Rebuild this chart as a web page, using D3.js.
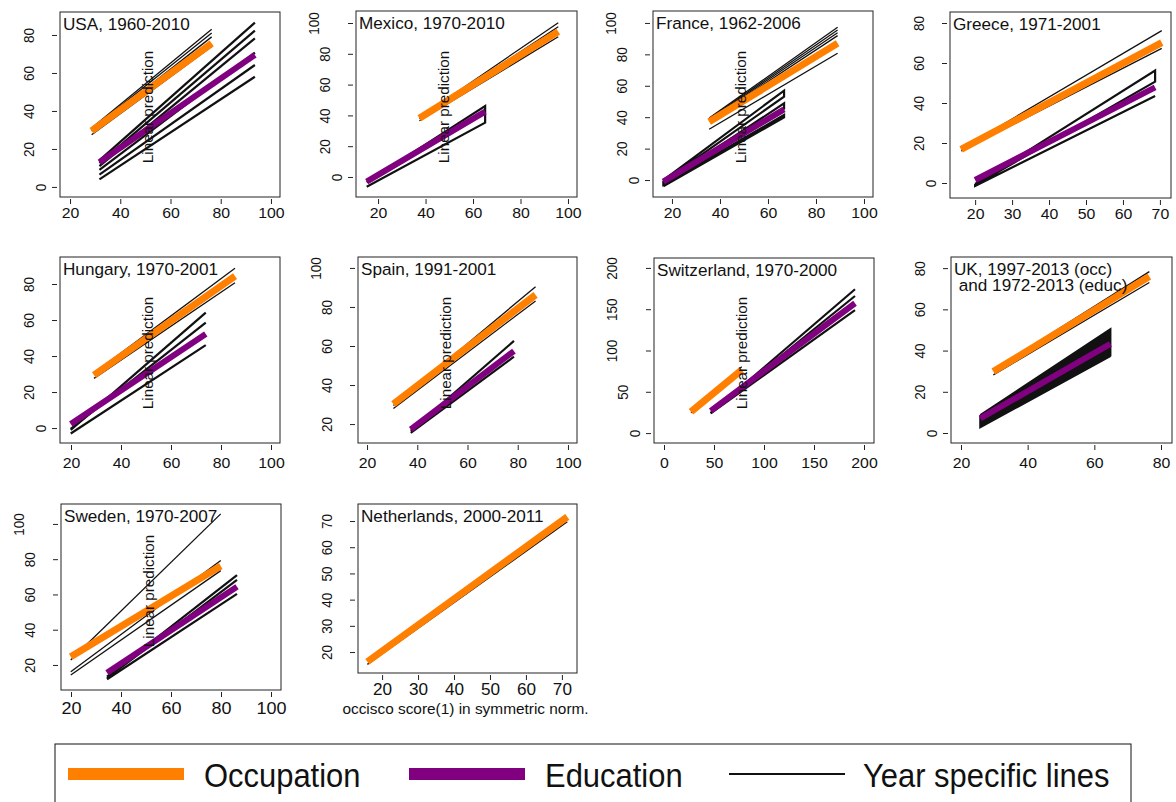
<!DOCTYPE html>
<html><head><meta charset="utf-8">
<script src="https://cdn.jsdelivr.net/npm/d3@7"></script>
<style>
body{margin:0;background:#fff}
svg{display:block}
text{font-family:"Liberation Sans",Arial,Helvetica,sans-serif;fill:#111}
</style>
</head><body>
<svg id="chart" width="1176" height="802"></svg>
<script>
// ---------------- DATA ----------------
const panelTitles = [
  ["USA, 1960-2010"], ["Mexico, 1970-2010"], ["France, 1962-2006"], ["Greece, 1971-2001"],
  ["Hungary, 1970-2001"], ["Spain, 1991-2001"], ["Switzerland, 1970-2000"],
  ["UK, 1997-2013 (occ)", " and 1972-2013 (educ)"],
  ["Sweden, 1970-2007"], ["Netherlands, 2000-2011"]
];
const xTicks = [
  [20,40,60,80,100],[20,40,60,80,100],[20,40,60,80,100],[20,30,40,50,60,70],
  [20,40,60,80,100],[20,40,60,80,100],[0,50,100,150,200],[20,40,60,80],
  [20,40,60,80,100],[20,30,40,50,60,70]
];
const yTicks = [
  [0,20,40,60,80],[0,20,40,60,80,100],[0,20,40,60,80,100],[0,20,40,60,80],
  [0,20,40,60,80],[20,40,60,80,100],[0,50,100,150,200],[0,20,40,60,80],
  [20,40,60,80,100],[20,30,40,50,60,70]
];
// pooled occupation line: x range and predicted values at the ends
const occX = [[28.6,76.4],[37.4,95.9],[35.5,89],[16.2,70.5],[29.2,85.6],[30.5,87.1],[27,77.7],[29.7,76.5],[19.9,79.9],[15.9,71.5]];
const occY = [[29.5,75.6],[38.1,94.4],[37.1,87],[16.8,70.2],[29.4,84.4],[30.3,86.2],[25.8,76.4],[29.8,75.9],[24.7,76.2],[16.3,71.6]];
// year specific occupation lines: [y at left end, y at right end]
const occYears = [
  [[31,83],[30.5,81],[29.5,79],[27.5,74]],
  [[38.5,100.2],[38,97.6],[36.5,91.1]],
  [[39.5,97.2],[39,95.5],[38.5,93.8],[38,91.9],[32.3,80.7]],
  [[17,76.2],[16,67.3]],
  [[30.5,88.7],[27.6,80.7]],
  [[29.5,90.4],[28,83.1]],
  [[24.6,80.4]],
  [[30.5,78.3],[28.2,73]],
  [[22.8,105.7],[16.2,79.2],[14.3,73.5]],
  [[15.3,69.7]]
];
// pooled education line
const eduX = [[31.7,93.6],[15.2,65.1],[16.4,66.7],[20,68.7],[19.9,73.9],[37.4,78.5],[46.7,191],[25.8,64.8],[34.4,86.4],null];
const eduY = [[13,69.5],[-3,42.4],[-1,45],[1.5,47.8],[2.2,52.2],[17.3,57.4],[27,157.2],[7.1,43.2],[15.6,64.4],null];
// year specific education lines
const eduYears = [
  [[14,86.5],[12.5,82.3],[11,78.2],[9,70.7],[6.5,64.2],[4,58]],
  [[-3.5,46.1],[-6.3,35.3]],
  [[0,56.9],[-1,53.1],[-2,48.8],[-2.5,45.5],[-3,41.4],[-4,39.9]],
  [[-0.5,56.2],[-1,50.7],[-1.5,43.5]],
  [[-1,64.1],[-0.5,58.5],[-3,46.1]],
  [[16.5,62.6],[15.5,54.5]],
  [[24,174.2],[24.5,166],[23.8,149]],
  [[8.7,50.3],[8.2,49],[7.8,47.8],[7.3,46.6],[6.9,45.5],[6.4,44.4],[6,43.2],[5.6,42.1],[5.1,41],[4.6,39.8],[4.1,38.6],[3.4,37.6],[2.8,37.4]],
  [[13.4,71],[12.5,68.2],[11.9,60.3]],
  null
];
const eduConnected = [false,true,true,true,false,false,false,true,false,false];
const showYTitle = [true,true,true,false,true,true,true,false,true,false];
const legendLabels = ["Occupation","Education","Year specific lines"];
const xAxisTitle = "occisco score(1) in symmetric norm.";
const yAxisTitle = "Linear prediction";

// ---------------- LAYOUT ----------------
const layout = [
  {box:[60,12,280,197],  xDom:[16,103.6],  yDom:[-5.3,92.1], xFs:14.4, xTop:11, ytDy:95},
  {box:[356,11,577,197], xDom:[10.7,103.8],yDom:[-13,107.8], xFs:14.4, xTop:11, ytDy:96},
  {box:[653,11,873,197], xDom:[12.1,103.75],yDom:[-10.8,107.6],xFs:14.4, xTop:11, ytDy:96},
  {box:[950,12,1171,198],xDom:[13.2,73],   yDom:[-7.5,85.5], xFs:14.4, xTop:11, ytDy:95},
  {box:[60,257,280,443], xDom:[15.6,103.6],yDom:[-8.3,95],   xFs:14.4, xTop:15, ytDy:96},
  {box:[358,257,577,443],xDom:[16.4,103.6],yDom:[10.3,105.6],xFs:14.4, xTop:15, ytDy:96},
  {box:[654,258,874,443],xDom:[-10,210],   yDom:[-12,212],   xFs:14.4, xTop:15, ytDy:95},
  {box:[951,257,1172,443],xDom:[17,83.3],  yDom:[-4.85,85.4],xFs:14.4, xTop:15, ytDy:95},
  {box:[61,504,281,690], xDom:[16,104],    yDom:[5.8,111.3], xFs:16.4, xTop:12, ytDy:87},
  {box:[358,504,577,673],xDom:[13.3,74.2], yDom:[12,76.5],   xFs:15.6, xTop:11, ytDy:87}
];
const SX = 1.1;
const ORANGE = "#FF7F00", PURPLE = "#800080", BLACK = "#111";

const svg = d3.select("#chart");

function yearPath(x, y, xr, lines, connected) {
  const line = d3.line().x(d => x(d[0])).y(d => y(d[1]));
  if (connected) {
    const pts = [];
    lines.forEach((l, k) => {
      const a = [xr[0], l[0]], b = [xr[1], l[1]];
      if (k % 2 === 0) { pts.push(a, b); } else { pts.push(b, a); }
    });
    return [line(pts)];
  }
  return lines.map(l => line([[xr[0], l[0]], [xr[1], l[1]]]));
}

panelTitles.forEach((title, i) => {
  const L = layout[i];
  const [bx0, by0, bx1, by1] = L.box;
  const x = d3.scaleLinear().domain(L.xDom).range([bx0, bx1]);
  const y = d3.scaleLinear().domain(L.yDom).range([by1, by0]);
  const g = svg.append("g");
  const line = d3.line().x(d => x(d[0])).y(d => y(d[1]));

  // x axis
  const xa = g.append("g").attr("transform", `translate(0,${by1 + 2})`)
    .call(d3.axisBottom(x).tickValues(xTicks[i]).tickSize(5).tickSizeOuter(0).tickPadding(L.xTop - 7));
  xa.select(".domain").remove();
  xa.selectAll(".tick line").attr("stroke", "#222");
  xa.selectAll(".tick text").attr("font-size", L.xFs).attr("fill", "#111")
    .attr("font-family", '"Liberation Sans",Arial,sans-serif')
    .attr("transform", `scale(${SX},1)`);

  // y axis
  const ya = g.append("g").attr("transform", `translate(${bx0 - 3},0)`)
    .call(d3.axisLeft(y).tickValues(yTicks[i]).tickSize(5).tickSizeOuter(0));
  ya.select(".domain").remove();
  ya.selectAll(".tick line").attr("stroke", "#222");
  ya.selectAll(".tick text").each(function(d) {
    const n = String(d).length;
    const off = 8 + 11.5 * n - 3;
    d3.select(this).attr("x", 0).attr("y", 0).attr("dy", "0.36em")
      .attr("text-anchor", "middle").attr("font-size", 13.5).attr("fill", "#111")
      .attr("font-family", '"Liberation Sans",Arial,sans-serif')
      .attr("transform", `translate(${-off},0) scale(${SX},1) rotate(-90)`);
  });

  // year specific occupation lines
  yearPath(x, y, occX[i], occYears[i], false).forEach(p =>
    g.append("path").attr("d", p).attr("fill", "none").attr("stroke", BLACK).attr("stroke-width", 1.3));
  // pooled occupation
  g.append("path").attr("d", line([[occX[i][0], occY[i][0]], [occX[i][1], occY[i][1]]]))
    .attr("fill", "none").attr("stroke", ORANGE).attr("stroke-width", 7);

  if (eduYears[i]) {
    yearPath(x, y, eduX[i], eduYears[i], eduConnected[i]).forEach(p =>
      g.append("path").attr("d", p).attr("fill", "none").attr("stroke", BLACK)
        .attr("stroke-width", 2.2).attr("stroke-linejoin", "miter"));
    g.append("path").attr("d", line([[eduX[i][0], eduY[i][0]], [eduX[i][1], eduY[i][1]]]))
      .attr("fill", "none").attr("stroke", PURPLE).attr("stroke-width", 6);
  }

  // frame
  g.append("rect").attr("x", bx0).attr("y", by0).attr("width", bx1 - bx0).attr("height", by1 - by0)
    .attr("fill", "none").attr("stroke", "#222").attr("stroke-width", 1);

  // title
  title.forEach((t, k) => {
    g.append("text").attr("transform", `translate(${bx0 + 3},${by0 + 18 + k * 15.5}) scale(${SX},1)`)
      .attr("font-size", 15.6).attr("xml:space", "preserve").style("white-space", "pre").text(t);
  });

  // y title drawn inside plot region
  if (showYTitle[i]) {
    g.append("text").attr("transform", `translate(${bx0 + 89.5},${by0 + L.ytDy}) rotate(-90)`)
      .attr("text-anchor", "middle").attr("dy", "0.26em").attr("font-size", 15.2).text(yAxisTitle);
  }

  if (i === 9) {
    g.append("text").attr("transform", `translate(${(bx0 + bx1) / 2 - 2},${by1 + 41}) scale(${SX},1)`)
      .attr("text-anchor", "middle").attr("font-size", 14).text(xAxisTitle);
  }
});

// ---------------- LEGEND ----------------
const leg = svg.append("g");
leg.append("rect").attr("x", 55).attr("y", 744).attr("width", 1076).attr("height", 80)
  .attr("fill", "#fff").attr("stroke", "#111").attr("stroke-width", 1);
const legItems = [
  {sx: 68, tx: 204, color: ORANGE, w: 12},
  {sx: 409, tx: 545, color: PURPLE, w: 12},
  {sx: 729, tx: 863, color: BLACK, w: 2}
];
legItems.forEach((it, k) => {
  leg.append("line").attr("x1", it.sx).attr("x2", it.sx + 116).attr("y1", 774).attr("y2", 774)
    .attr("stroke", it.color).attr("stroke-width", it.w);
  leg.append("text").attr("transform", `translate(${it.tx},787) scale(0.91,1)`)
    .attr("font-size", 34).text(legendLabels[k]);
});
</script>
</body></html>
